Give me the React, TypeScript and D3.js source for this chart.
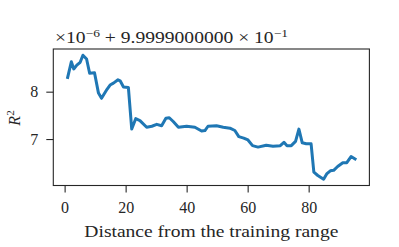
import React, { useEffect, useRef } from 'react';
import * as d3 from 'd3';

// distance from training range (x) and R^2 offset values (y, in units of 1e-6 above 0.99990)
const distance = [
  1, 2.2, 3, 4, 5.1, 6, 7.2, 8.2, 9.8, 11.1, 12.1, 13.9, 14.9, 16, 17.5, 18.2, 19.3, 20.9,
  22, 23.3, 24.7, 26.9, 28.6, 30.2, 31.8, 33.2, 34.3, 35.6, 37.3, 40, 42.7, 44.9, 46, 47,
  49.8, 52, 54.2, 55.8, 57.1, 58.7, 60.1, 61.6, 63.4, 66.1, 68.3, 70.7, 71.9, 72.9, 74.3,
  75.7, 76.8, 77.9, 79.2, 80.8, 81.7, 83, 84.9, 86, 87.1, 88.2, 89.5, 91.2, 92.5, 93.9, 95.2,
];
const r2 = [
  8.3, 8.63, 8.48, 8.56, 8.62, 8.77, 8.69, 8.39, 8.4, 7.97, 7.86, 8.05, 8.14, 8.18, 8.25, 8.23, 8.1, 8.09,
  7.21, 7.43, 7.39, 7.25, 7.27, 7.31, 7.28, 7.44, 7.45, 7.37, 7.25, 7.27, 7.25, 7.17, 7.18, 7.27,
  7.28, 7.25, 7.23, 7.18, 7.05, 7.02, 6.98, 6.86, 6.83, 6.87, 6.85, 6.86, 6.93, 6.86, 6.86,
  6.95, 7.21, 6.92, 6.9, 6.9, 6.3, 6.23, 6.15, 6.27, 6.33, 6.34, 6.42, 6.5, 6.5, 6.63, 6.58,
];
const xTicks = [0, 20, 40, 60, 80];
const yTicks = [7, 8];

const W = 399;
const H = 247;
const margin = { left: 53.3, right: 29.6, top: 49, bottom: 61.5 };
const font = '"Liberation Serif", "DejaVu Serif", serif';
const ink = '#262626';

function padded(vals: number[]): [number, number] {
  const [lo, hi] = d3.extent(vals) as [number, number];
  const m = (hi - lo) * 0.05;
  return [lo - m, hi + m];
}

export default function App() {
  const ref = useRef<SVGSVGElement>(null);

  useEffect(() => {
    if (!ref.current) return;
    const svg = d3.select(ref.current);
    svg.selectAll('*').remove();

    const x = d3.scaleLinear().domain(padded(distance)).range([margin.left, W - margin.right]);
    const y = d3.scaleLinear().domain(padded(r2)).range([H - margin.bottom, margin.top]);

    const pts = distance.map((d, i) => [d, r2[i]] as [number, number]);

    // line
    svg.append('path')
      .datum(pts)
      .attr('d', d3.line().x(d => x(d[0])).y(d => y(d[1])))
      .attr('fill', 'none')
      .attr('stroke', '#1f77b4')
      .attr('stroke-width', 3)
      .attr('stroke-linejoin', 'round')
      .attr('stroke-linecap', 'square');

    // axes
    const xAxis = svg.append('g')
      .attr('transform', `translate(0,${H - margin.bottom})`)
      .call(d3.axisBottom(x).tickValues(xTicks).tickSize(7).tickPadding(9).tickFormat(d3.format('d')));
    const yAxis = svg.append('g')
      .attr('transform', `translate(${margin.left},0)`)
      .call(d3.axisLeft(y).tickValues(yTicks).tickSize(7).tickPadding(8).tickFormat(d3.format('d')));

    [xAxis, yAxis].forEach(a => {
      a.select('.domain').remove();
      a.selectAll('line').attr('stroke', ink).attr('stroke-width', 1.1);
      a.selectAll('text').attr('font-family', font).attr('font-size', 16).attr('fill', ink);
    });

    // frame
    svg.append('rect')
      .attr('x', margin.left)
      .attr('y', margin.top)
      .attr('width', W - margin.left - margin.right)
      .attr('height', H - margin.top - margin.bottom)
      .attr('fill', 'none')
      .attr('stroke', ink)
      .attr('stroke-width', 1.1);

    // x label
    svg.append('text')
      .attr('x', (margin.left + W - margin.right) / 2)
      .attr('y', 237)
      .attr('text-anchor', 'middle')
      .attr('font-family', font)
      .attr('font-size', 16)
      .attr('fill', ink)
      .attr('textLength', 254)
      .attr('lengthAdjust', 'spacingAndGlyphs')
      .text('Distance from the training range');

    // y label R^2
    const yl = svg.append('text')
      .attr('transform', 'translate(20,118) rotate(-90)')
      .attr('text-anchor', 'middle')
      .attr('font-family', font)
      .attr('font-size', 16)
      .attr('fill', ink);
    yl.append('tspan').attr('font-style', 'italic').text('R');
    yl.append('tspan').attr('dy', -6).attr('font-size', 11).text('2');

    // offset text
    const off = svg.append('text')
      .attr('x', 55)
      .attr('y', 43)
      .attr('font-family', font)
      .attr('font-size', 16)
      .attr('fill', ink)
      .attr('textLength', 233)
      .attr('lengthAdjust', 'spacingAndGlyphs');
    off.append('tspan').text('×10');
    off.append('tspan').attr('dy', -6).attr('font-size', 11).text('−6');
    off.append('tspan').attr('dy', 6).text(' + 9.9999000000 × 10');
    off.append('tspan').attr('dy', -6).attr('font-size', 11).text('−1');
  }, []);

  return (
    <svg
      ref={ref}
      width={W}
      height={H}
      style={{ position: 'absolute', left: 0, top: 0, background: 'white' }}
    />
  );
}
